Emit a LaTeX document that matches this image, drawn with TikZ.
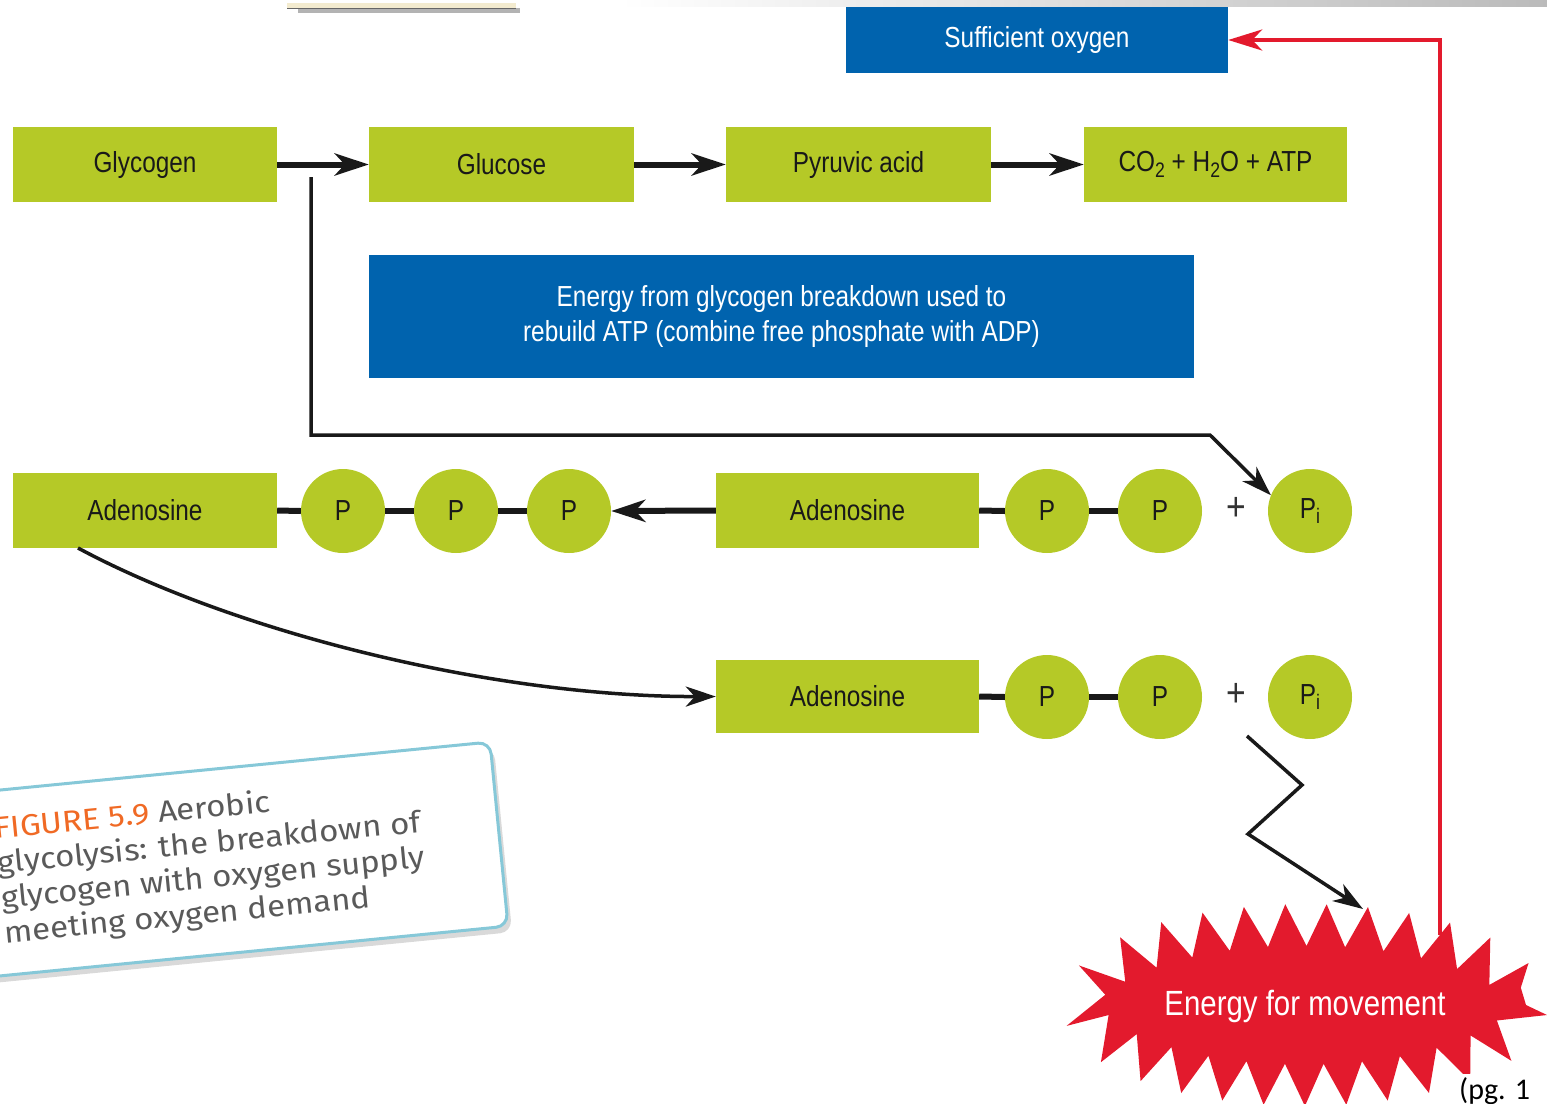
\documentclass[tikz,border=0pt]{standalone}
\usepackage{fontspec}
\setmainfont{Liberation Sans}[FakeStretch=0.84]
\newfontfamily\capfont{Fira Sans}[FakeStretch=1.1]
\newfontfamily\pgfont{Carlito}
\usetikzlibrary{arrows.meta,decorations.pathmorphing,shadows}
\definecolor{ggreen}{HTML}{B5C927}
\definecolor{bblue}{HTML}{0063AE}
\definecolor{rred}{HTML}{E31A2D}
\definecolor{oorange}{HTML}{F06A25}
\definecolor{capblue}{HTML}{86C8D8}
\definecolor{capgray}{HTML}{5A5A5A}
\definecolor{cream}{HTML}{F3EBCF}
\newcommand{\lowsub}[1]{\raisebox{-0.35ex}{\fontsize{21}{21}\selectfont #1}}
\begin{document}
\begin{tikzpicture}[x=1pt,y=-1pt,
  gbox/.style={fill=ggreen, minimum width=264pt, minimum height=75pt, inner sep=0pt,
    font=\fontsize{29}{32}\selectfont, text=black!90},
  bbox/.style={fill=bblue, text=white, inner sep=0pt, align=center,
    font=\fontsize{29}{35}\selectfont},
  pcirc/.style={circle, fill=ggreen, minimum size=84pt, inner sep=0pt,
    font=\fontsize{29}{32}\selectfont, text=black!90},
  plus/.style={inner sep=0pt, font=\fontsize{40}{40}\selectfont, text=black!80},
  bar/.style={line width=6pt, black!90},
  fat/.style={line width=6pt, black!90, -{Stealth[length=34pt,width=22pt,inset=10pt]}},
  tarr/.style={line width=3.5pt, black!90, -{Stealth[length=30pt,width=20pt,inset=9pt]}},
  redarr/.style={line width=3.5pt, rred, -{Stealth[length=34pt,width=21pt,inset=10pt]}},
  capt/.style={transform shape, inner sep=0pt, anchor=base west, text=capgray,
    font=\capfont\fontsize{30}{30}\selectfont}
]
\useasboundingbox (0,0) rectangle (1547,1103);
\clip (0,0) rectangle (1547,1103);

% top decorations
\shade[left color=white, right color=black!27] (620,0) rectangle (1547,6);
\fill[black!50, opacity=0.6] (298,8) rectangle (520,13);
\fill[cream] (287,3) rectangle (516,8);
\draw[black!60, line width=0.8pt] (287,8) -- (516,8);

% top row
\node[bbox, minimum width=382pt, minimum height=66pt] (suff) at (1037,40) {Sufficient oxygen};
\node[gbox] (gly) at (145,164.5) {Glycogen};
\node[gbox, minimum width=265pt] (glu) at (501.5,164.5) {Glucose};
\node[gbox, minimum width=265pt] (pyr) at (858.5,164.5) {Pyruvic acid};
\node[gbox, minimum width=263pt] (co2) at (1215.5,164.5) {CO\lowsub{2} + H\lowsub{2}O + ATP};
\draw[fat] (gly.east) -- (glu.west);
\draw[fat] (glu.east) -- (pyr.west);
\draw[fat] (pyr.east) -- (co2.west);

\node[bbox, minimum width=825pt, minimum height=123pt] (enbox) at (781.5,316.5)
  {Energy from glycogen breakdown used to\\rebuild ATP (combine free phosphate with ADP)};

% row 2
\node[gbox] (a1) at (145,510.5) {Adenosine};
\node[pcirc] (p1) at (343,511) {P};
\node[pcirc] (p2) at (456,511) {P};
\node[pcirc] (p3) at (569,511) {P};
\node[gbox, minimum width=263pt] (a2) at (847.5,510.5) {Adenosine};
\node[pcirc] (p4) at (1047,511) {P};
\node[pcirc] (p5) at (1160,511) {P};
\node[plus] (plus1) at (1236,509) {+};
\node[pcirc] (pi1) at (1310,511) {P\lowsub{i}};
\draw[bar] (a1.east) -- (p1.west);
\draw[bar] (p1.east) -- (p2.west);
\draw[bar] (p2.east) -- (p3.west);
\draw[bar] (a2.east) -- (p4.west);
\draw[bar] (p4.east) -- (p5.west);
\draw[fat] (a2.west) -- (p3.east);

% row 3
\node[gbox, minimum width=263pt, minimum height=73pt] (a3) at (847.5,696.5) {Adenosine};
\node[pcirc] (p6) at (1047,697) {P};
\node[pcirc] (p7) at (1160,697) {P};
\node[plus] (plus2) at (1236,695) {+};
\node[pcirc] (pi2) at (1310,697) {P\lowsub{i}};
\draw[bar] (a3.east) -- (p6.west);
\draw[bar] (p6.east) -- (p7.west);

% glycogen energy line
\coordinate (ls) at (311,177);
\draw[tarr] (ls) -- (311,435) -- (1210,435) -- (pi1.158);

% curve
\coordinate (cs) at (78,548);
\draw[tarr] (cs) .. controls (240,635) and (500,697) .. (a3.west);

% starburst
\fill[rred, decorate, decoration={zigzag, segment length=40pt, amplitude=21pt}]
  (1305,1005) ellipse [x radius=221, y radius=80];
\node[inner sep=0pt, text=white, font=\fontsize{35}{35}\selectfont] (energy) at (1305,1006) {Energy for movement};

% zigzag arrow
\coordinate (z0) at (1247,736);
\coordinate (z1) at (1302,785);
\coordinate (z2) at (1248,834);
\coordinate (z3) at (1363,909);
\draw[tarr] (z0) -- (z1) -- (z2) -- (z3);

% red feedback arrow
\coordinate (rs) at (1440,935);
\draw[redarr] (rs) |- (suff);

% page reference
\node[fill=white, inner sep=3pt, anchor=base west, font=\pgfont\fontsize{30}{30}\selectfont] (pg) at (1456,1099) {(pg. 1};

% caption box
\begin{scope}[shift={(490,742)}, rotate=5.6]
  \draw[capblue, line width=3pt, fill=white, rounded corners=12pt,
    drop shadow={opacity=0.3, shadow xshift=4pt, shadow yshift=-6pt}] (-560,0) rectangle (0,185);
  \node[capt] (cap1) at (-502,48) {{\color{oorange}FIGURE 5.9} Aerobic};
  \node[capt] (cap2) at (-502,83) {glycolysis: the breakdown of};
  \node[capt] (cap3) at (-502,118) {glycogen with oxygen supply};
  \node[capt] (cap4) at (-502,153) {meeting oxygen demand};
\end{scope}
\end{tikzpicture}
\end{document}
